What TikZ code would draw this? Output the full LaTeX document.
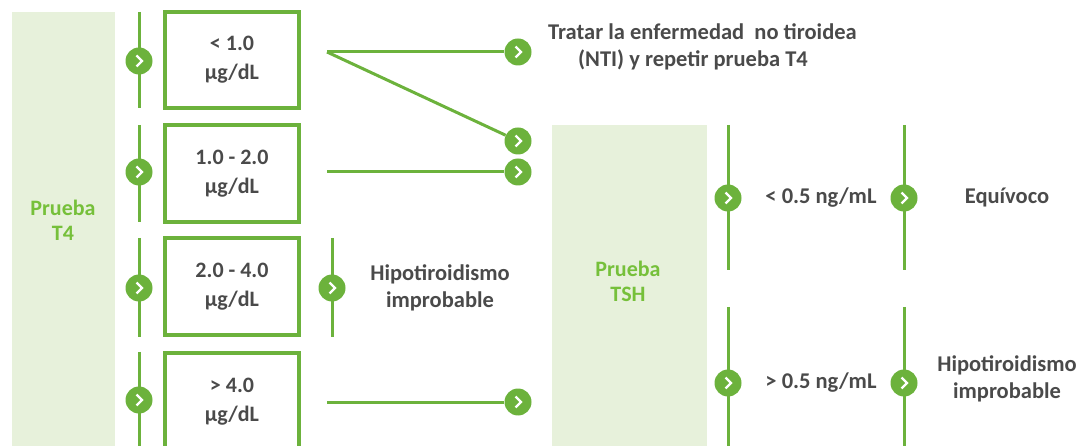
\documentclass[tikz,border=0pt]{standalone}
\usepackage{fontspec}
\setmainfont{Carlito}
\definecolor{lg}{RGB}{108,178,60}
\definecolor{pale}{RGB}{231,241,219}
\definecolor{txt}{RGB}{74,74,74}
\definecolor{tg}{RGB}{118,192,58}
\begin{document}
\begin{tikzpicture}[x=1pt,y=-1pt,
  lbl/.style={font=\fontsize{22.5}{27}\selectfont\bfseries, text=txt, align=center, inner sep=0pt},
  glbl/.style={font=\fontsize{22}{25}\selectfont\bfseries, text=tg, align=center, inner sep=0pt},
  valbox/.style={draw=lg, line width=3.5pt, minimum width=134pt, inner sep=0pt,
    font=\fontsize{22}{29}\selectfont\bfseries, text=txt, align=center},
  panel/.style={fill=pale},
  vline/.style={draw=lg, line width=3pt},
  conn/.style={draw=lg, line width=3pt},
  chev/.style={circle, fill=lg, minimum size=27pt, inner sep=0pt,
    path picture={\draw[white, line width=2.4pt]
      ([xshift=-2.5pt,yshift=5.5pt]path picture bounding box.center) --
      ([xshift=3pt]path picture bounding box.center) --
      ([xshift=-2.5pt,yshift=-5.5pt]path picture bounding box.center);}}
]
\useasboundingbox (0,0) rectangle (1090,446);
\clip (0,0) rectangle (1090,446);

% panels
\fill[panel] (12,12) rectangle (115,450);
\fill[panel] (552,125) rectangle (707,450);
\node[glbl] (t4) at (63,220) {Prueba\\T4};
\node[glbl] (tsh) at (628,281) {Prueba\\TSH};

% vertical line coordinates
\coordinate (l1a) at (139,12);  \coordinate (l1b) at (139,108);
\coordinate (l2a) at (139,125); \coordinate (l2b) at (139,222);
\coordinate (l3a) at (139,238); \coordinate (l3b) at (139,337);
\coordinate (l4a) at (139,352); \coordinate (l4b) at (139,450);
\coordinate (m1a) at (332,238); \coordinate (m1b) at (332,337);
\coordinate (r1a) at (728,125); \coordinate (r1b) at (728,270);
\coordinate (r2a) at (728,307); \coordinate (r2b) at (728,450);
\coordinate (r3a) at (904,125); \coordinate (r3b) at (904,270);
\coordinate (r4a) at (904,307); \coordinate (r4b) at (904,450);
\foreach \a/\b in {l1a/l1b,l2a/l2b,l3a/l3b,l4a/l4b,m1a/m1b,r1a/r1b,r2a/r2b,r3a/r3b,r4a/r4b}
  \draw[vline] (\a) -- (\b);

% value boxes
\node[valbox, minimum height=96pt] (b1) at (232,60) {< 1.0\\µg/dL};
\node[valbox, minimum height=97pt] (b2) at (232,173.5) {1.0 - 2.0\\µg/dL};
\node[valbox, minimum height=97pt] (b3) at (232,286.5) {2.0 - 4.0\\µg/dL};
\node[valbox, minimum height=97pt] (b4) at (232,401.5) {> 4.0\\µg/dL};

% chevron circles
\node[chev] (c1) at (139,61) {};
\node[chev] (c2) at (139,172) {};
\node[chev] (c3) at (139,288) {};
\node[chev] (c4) at (139,400) {};
\node[chev] (cm) at (332,288) {};
\node[chev] (d1) at (518,52) {};
\node[chev] (d2) at (518,141) {};
\node[chev] (d3) at (518,172) {};
\node[chev] (d4) at (518,402) {};
\node[chev] (e1) at (728,198) {};
\node[chev] (e2) at (728,383) {};
\node[chev] (f1) at (904,198) {};
\node[chev] (f2) at (904,383) {};

% connectors
\coordinate (s1) at (327,52);
\coordinate (s2) at (327,172);
\coordinate (s4) at (327,402);
\draw[conn] (s1) -- (d1);
\draw[conn] (s1) -- (d2);
\draw[conn] (s2) -- (d3);
\draw[conn] (s4) -- (d4);

% labels
\node[lbl, align=left, anchor=west] (nti) at (548,47)
  {Tratar la enfermedad\ \ no tiroidea\\\hspace*{30pt}(NTI) y repetir prueba T4};
\node[lbl] (hip1) at (440,288) {Hipotiroidismo\\improbable};
\node[lbl] (lt) at (821,198) {< 0.5 ng/mL};
\node[lbl] (gt) at (821,383) {> 0.5 ng/mL};
\node[lbl] (eq) at (1007,198) {Equívoco};
\node[lbl] (hip2) at (1007,379) {Hipotiroidismo\\improbable};
\end{tikzpicture}
\end{document}
